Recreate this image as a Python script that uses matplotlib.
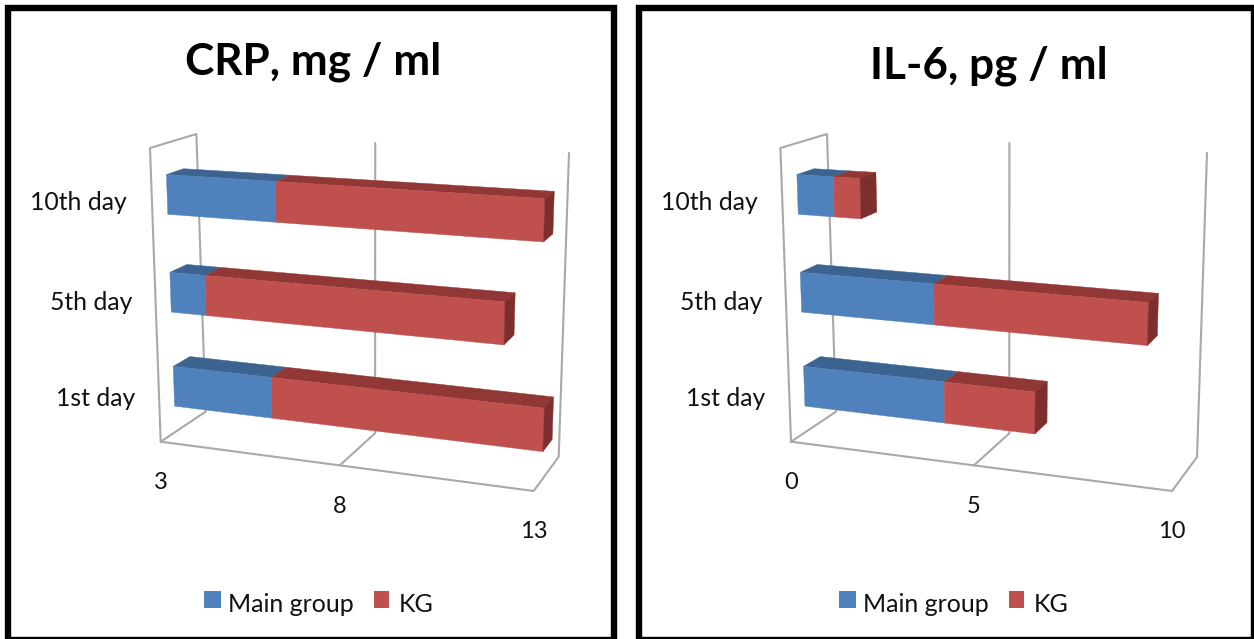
import matplotlib
matplotlib.use("Agg")
import matplotlib.pyplot as plt
from matplotlib.patches import Polygon, Rectangle

plt.rcParams['font.family'] = ['Lato', 'DejaVu Sans']

# ---- data -------------------------------------------------------------
days = ["1st day", "5th day", "10th day"]
series_names = ["Main group", "KG"]
crp_title = "CRP, mg / ml"
crp_main = [5.8, 4.0, 6.0]
crp_kg = [7.2, 7.95, 6.85]
crp_ticks = [3, 8, 13]
il6_title = "IL-6, pg / ml"
il6_main = [3.9, 3.65, 1.0]
il6_kg = [2.4, 5.45, 0.72]
il6_ticks = [0, 5, 10]

# ---- style / layout ---------------------------------------------------
W, H = 1254, 639
BLUE, BLUE_TOP = "#4F81BD", "#3D6491"
RED, RED_TOP, RED_SIDE = "#C0504D", "#913735", "#7D2F2D"
GRID = "#A9A9A9"
PERSP = 0.923
CAT_POS = [0.158, 0.484, 0.823]
BAR_HALF = 0.069
D0, D1 = 0.33, 0.70
CAT_PAD = [24, 23, 25]
TICK_DROP = 41

fig = plt.figure(figsize=(W / 100, H / 100), dpi=100)
ax = fig.add_axes([0, 0, 1, 1])
ax.set_xlim(0, W)
ax.set_ylim(H, 0)
ax.axis("off")


def make_projection(c):
    """c: corners keyed (x side, height, depth) in canvas units."""
    def proj(t, h, d):
        s = PERSP * t / (1 + (PERSP - 1) * t)
        out = []
        for i in range(2):
            val = 0
            for sx, ws in ((0, 1 - s), (1, s)):
                for sh, wh in ((0, 1 - h), (1, h)):
                    for sd, wd in ((0, 1 - d), (1, d)):
                        val += c[(sx, sh, sd)][i] * ws * wh * wd
            out.append(val)
        return tuple(out)
    return proj


def panel(frame, corners, title, title_xy, main, kg, ticks, legend_x):
    x0, x1 = frame
    ax.add_patch(Rectangle((x0, 8), x1 - x0, 632, fc="white", ec="black", lw=4.6, zorder=1))
    P = make_projection(corners)
    vmin, vmax = ticks[0], ticks[-1]
    T = lambda v: (v - vmin) / (vmax - vmin)

    def line(*pts):
        ax.plot([p[0] for p in pts], [p[1] for p in pts], color=GRID, lw=1.5, zorder=2,
                solid_capstyle="round", solid_joinstyle="round")

    # walls and floor
    line(P(0, 0, 0), P(0, 1, 0), P(0, 1, 1), P(0, 0, 1), P(0, 0, 0), P(1, 0, 0), P(1, 0, 1), P(1, 1, 1))
    mid = T(ticks[1])
    line(P(mid, 0, 0), P(mid, 0, 1), P(mid, 1, 1))

    def poly(pts, color, z):
        ax.add_patch(Polygon(pts, closed=True, fc=color, ec=color, lw=0.3, zorder=z))

    # bars, back to front
    for k in (2, 1, 0):
        lo, hi = CAT_POS[k] - BAR_HALF, CAT_POS[k] + BAR_HALF
        z = 3 + (2 - k)
        a, b = T(vmin), T(main[k])
        c = T(main[k] + kg[k])
        for (t0, t1, col, top) in ((a, b, BLUE, BLUE_TOP), (b, c, RED, RED_TOP)):
            poly([P(t0, hi, D0), P(t0, hi, D1), P(t1, hi, D1), P(t1, hi, D0)], top, z)
            poly([P(t0, lo, D0), P(t0, hi, D0), P(t1, hi, D0), P(t1, lo, D0)], col, z + 0.1)
        poly([P(c, lo, D0), P(c, hi, D0), P(c, hi, D1), P(c, lo, D1)], RED_SIDE, z + 0.1)

    # labels
    for k, name in enumerate(days):
        px, py = P(0, CAT_POS[k], 0)
        ax.text(px - CAT_PAD[k], py + 3, name, ha="right", va="center", fontsize=17.8, color="#111111", zorder=9)
    for v in ticks:
        px, py = P(T(v), 0, 0)
        ax.text(px, py + TICK_DROP, str(v), ha="center", va="center", fontsize=17, color="#111111", zorder=9)
    ax.text(*title_xy, title, ha="center", va="center", fontsize=31.8, fontweight="bold", color="black", zorder=9)

    # legend
    ax.add_patch(Rectangle((legend_x, 591), 17, 17, fc=BLUE, ec="none", zorder=9))
    ax.text(legend_x + 24, 604, series_names[0], ha="left", va="center", fontsize=18, color="#111111", zorder=9)
    ax.add_patch(Rectangle((legend_x + 170, 591), 15, 17, fc=RED, ec="none", zorder=9))
    ax.text(legend_x + 195, 604, series_names[1], ha="left", va="center", fontsize=18, color="#111111", zorder=9)


left = {(0, 0, 0): (160.7, 441.7), (0, 1, 0): (150, 148), (0, 1, 1): (196.4, 134), (0, 0, 1): (205.6, 411.7),
        (1, 0, 0): (533.7, 491), (1, 1, 0): (544, 171), (1, 1, 1): (569, 153), (1, 0, 1): (558.7, 456.7)}
right = {(0, 0, 0): (791, 441.7), (0, 1, 0): (780.4, 148), (0, 1, 1): (827, 134), (0, 0, 1): (836, 411.7),
         (1, 0, 0): (1172, 491), (1, 1, 0): (1182, 171), (1, 1, 1): (1207, 153), (1, 0, 1): (1197, 457)}

panel((8, 614), left, crp_title, (313, 62), crp_main, crp_kg, crp_ticks, 204)
panel((639, 1254), right, il6_title, (989, 66), il6_main, il6_kg, il6_ticks, 839)

fig.savefig("out.png", dpi=100, facecolor="white")
